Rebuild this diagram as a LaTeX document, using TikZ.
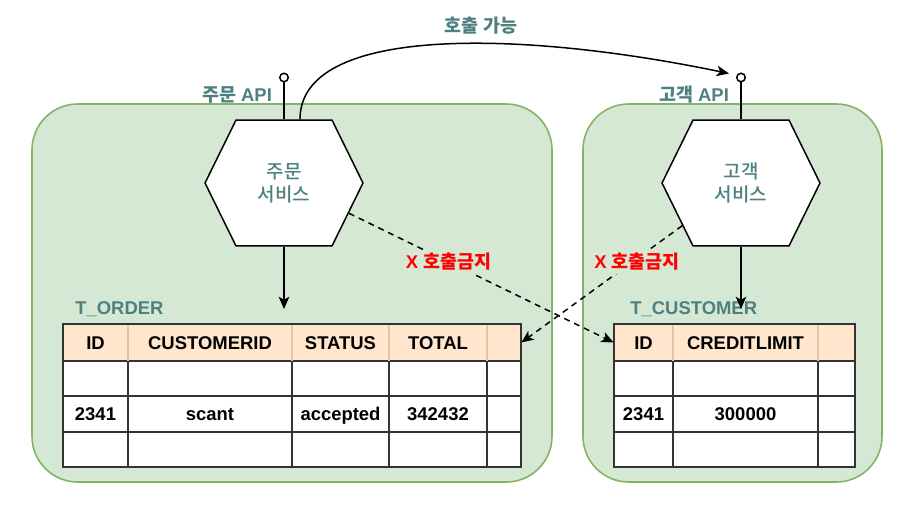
\documentclass[tikz,border=0pt]{standalone}
\usepackage{fontspec}
\setmainfont{Liberation Sans}
\newfontfamily\krfont{Noto Sans CJK KR}
\newfontfamily\krmedium{Noto Sans CJK KR Medium}
\usetikzlibrary{shapes.symbols, positioning, arrows.meta, calc, fit}
\definecolor{boxgreen}{HTML}{D5E8D4}
\definecolor{boxline}{HTML}{82B366}
\definecolor{hdrfill}{HTML}{FFE6CC}
\definecolor{hdrline}{HTML}{E2C6A4}
\definecolor{tealtext}{HTML}{4E8080}
\definecolor{gridline}{HTML}{333333}
\tikzset{
  container/.style={draw=boxline, fill=boxgreen, line width=0.9pt, rounded corners=26pt, inner sep=0pt},
  svc/.style={signal, signal to=east and west, signal pointer angle=127.6, draw=black, fill=white, line width=0.85pt,
    minimum width=3.16cm, minimum height=2.52cm, inner sep=0pt, align=center, text=tealtext,
    font=\krmedium\fontsize{10.8}{13}\selectfont},
  apiport/.style={circle, draw=black, fill=white, line width=0.85pt, inner sep=0pt, minimum size=0.17cm},
  apitext/.style={text=tealtext, font=\bfseries\fontsize{10.5}{13}\selectfont, inner sep=1pt},
  tbltitle/.style={text=tealtext, font=\bfseries\fontsize{10.5}{13}\selectfont, inner sep=0pt},
  tblhead/.style={fill=hdrfill, inner sep=0pt},
  tblgrid/.style={draw=gridline, line width=0.85pt},
  hdrsep/.style={draw=hdrline, line width=0.6pt},
  celltext/.style={font=\bfseries\fontsize{10.5}{13}\selectfont, inner sep=0pt, text height=7.6pt, text depth=0pt},
  flowarrow/.style={line width=0.85pt, -{Stealth[length=7pt, width=6pt, inset=1.8pt]}},
  banarrow/.style={flowarrow, dash pattern=on 3.4pt off 2.8pt},
  banlabel/.style={text=red, fill=boxgreen, font=\bfseries\fontsize{10.5}{13}\selectfont, inner sep=2pt}
}

\begin{document}
\begin{tikzpicture}[x=0.02cm, y=-0.02cm]
  \useasboundingbox (0,0) rectangle (912,507);

  % bounded contexts
  \node[container, fit={(32,104) (552,482)}] (ordbox) {};
  \node[container, fit={(583,104) (882,482)}] (custbox) {};

  % services
  \node[svc] (ordsvc) at (284,183) {주문\\서비스};
  \node[svc] (custsvc) at (741,183) {고객\\서비스};

  % API ports
  \node[apiport] (ordapi) at (284,77.5) {};
  \node[apiport] (custapi) at (741,77.5) {};
  \draw[line width=0.85pt] (ordsvc.north) -- (ordapi);
  \draw[line width=0.85pt] (custsvc.north) -- (custapi);
  \node[apitext, anchor=east] (ordapilbl) at (274,95) {{\krfont\bfseries 주문} API};
  \node[apitext, anchor=east] (custapilbl) at (731,95) {{\krfont\bfseries 고객} API};

  % allowed call
  \draw[flowarrow] ($(ordsvc.north)+(16,0)$) .. controls (300,25) and (520,30) .. ($(custapi.west)+(-7,-4)$);
  \node[apitext] (calllbl) at (481,26) {\krfont\bfseries 호출 가능};

  % T_ORDER table
  \node[tbltitle, anchor=west] (ordtitle) at (75,309) {T\_ORDER};
  \node[tblhead, fit={(63,324) (521,361)}] (ordhead) {};
  \fill[white] (63,361) rectangle (521,467);
  \foreach \y in {361,396,432} \draw[tblgrid] (63,\y) -- (521,\y);
  \foreach \x in {128,292,389,487} {
    \draw[hdrsep] (\x,324) -- (\x,361);
    \draw[tblgrid] (\x,361) -- (\x,467);
  }
  \draw[tblgrid] (63,324) rectangle (521,467);
  \foreach \i/\x/\txt/\val in {1/95.5/ID/2341, 2/210/CUSTOMERID/scant, 3/340.5/STATUS/accepted, 4/438/TOTAL/342432} {
    \node[celltext] (ordcol\i) at (\x,342.5) {\txt};
    \node[celltext] (ordval\i) at (\x,414) {\val};
  }

  % T_CUSTOMER table
  \node[tbltitle, anchor=west] (custtitle) at (630,309) {T\_CUSTOMER};
  \node[tblhead, fit={(614,324) (855,361)}] (custhead) {};
  \fill[white] (614,361) rectangle (855,467);
  \foreach \y in {361,396,432} \draw[tblgrid] (614,\y) -- (855,\y);
  \foreach \x in {673,818} {
    \draw[hdrsep] (\x,324) -- (\x,361);
    \draw[tblgrid] (\x,361) -- (\x,467);
  }
  \draw[tblgrid] (614,324) rectangle (855,467);
  \foreach \i/\x/\txt/\val in {1/643.5/ID/2341, 2/745.5/CREDITLIMIT/300000} {
    \node[celltext] (custcol\i) at (\x,342.5) {\txt};
    \node[celltext] (custval\i) at (\x,414) {\val};
  }

  % own tables
  \draw[flowarrow] (ordsvc.south) -- (ordsvc.south |- ordtitle.center);
  \draw[flowarrow] (custsvc.south) -- (custsvc.south |- custtitle.center);

  % forbidden calls
  \draw[banarrow] (ordsvc.-25) -- (custhead.west);
  \draw[banarrow] (custsvc.216) -- (ordhead.east);
  \node[banlabel] (ordban) at (448.5,262) {X {\krfont\bfseries 호출금지}};
  \node[banlabel] (custban) at (637,262) {X {\krfont\bfseries 호출금지}};
\end{tikzpicture}
\end{document}
